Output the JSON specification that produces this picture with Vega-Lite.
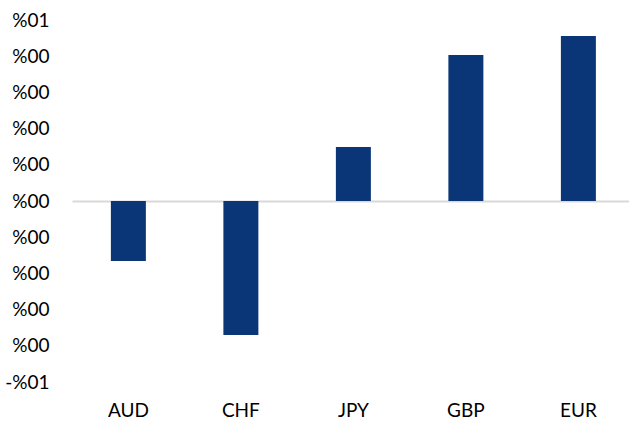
{
  "$schema": "https://vega.github.io/schema/vega-lite/v6.json",
  "autosize": {"type": "none"},
  "padding": {"left": 72, "top": 20, "right": 0, "bottom": 42},
  "width": 557,
  "height": 362,
  "background": "white",
  "config": {"view": {"stroke": null}, "font": "Lato"},
  "data": {
    "values": [
      {"currency": "AUD", "value": -0.00331},
      {"currency": "CHF", "value": -0.0074},
      {"currency": "JPY", "value": 0.00298},
      {"currency": "GBP", "value": 0.00807},
      {"currency": "EUR", "value": 0.00912}
    ]
  },
  "mark": {"type": "bar", "color": "#0A3577"},
  "encoding": {
    "x": {
      "field": "currency",
      "type": "nominal",
      "sort": null,
      "scale": {"paddingInner": 0.689, "paddingOuter": 0.32, "align": 0.54},
      "axis": {
        "title": null,
        "domain": false,
        "ticks": false,
        "labelAngle": 0,
        "labelFontSize": 19,
        "labelColor": "#000000",
        "labelPadding": 19
      }
    },
    "y": {
      "field": "value",
      "type": "quantitative",
      "scale": {"domain": [-0.01, 0.01], "nice": false, "zero": false},
      "axis": {
        "title": null,
        "domain": false,
        "ticks": false,
        "grid": true,
        "gridWidth": 2,
        "gridColor": {"condition": {"test": "abs(datum.value) < 0.0001", "value": "#D9D9D9"}, "value": "transparent"},
        "labelOverlap": false,
        "values": [-0.01, -0.008, -0.006, -0.004, -0.002, 0, 0.002, 0.004, 0.006, 0.008, 0.01],
        "labelExpr": "datum.value > 0.009 ? '%01' : (datum.value < -0.009 ? '-%01' : '%00')",
        "labelFontSize": 19,
        "labelColor": "#000000",
        "labelPadding": 23
      }
    }
  }
}
